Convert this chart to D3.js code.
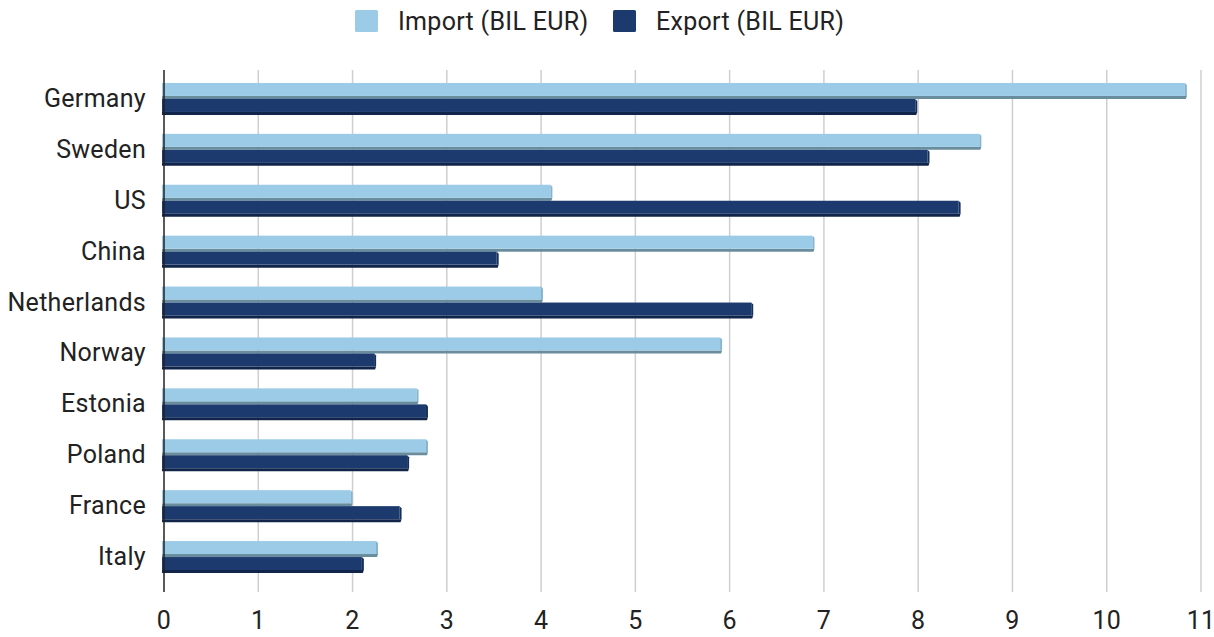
<!DOCTYPE html>
<html>
<head>
<meta charset="utf-8">
<script src="https://cdn.jsdelivr.net/npm/d3@7"></script>
<style>
  body { margin: 0; background: #fff; }
  text { font-family: Roboto, "Noto Sans", sans-serif; fill: #222; letter-spacing: 0.3px; }
</style>
</head>
<body>
<svg id="chart" width="1214" height="637"></svg>
<script>
// data
const countries = ["Germany", "Sweden", "US", "China", "Netherlands", "Norway", "Estonia", "Poland", "France", "Italy"];
const importVals = [10.85, 8.67, 4.12, 6.9, 4.02, 5.92, 2.7, 2.8, 2.0, 2.27];
const exportVals = [7.99, 8.12, 8.45, 3.55, 6.25, 2.25, 2.8, 2.6, 2.52, 2.12];
const xTicks = [0, 1, 2, 3, 4, 5, 6, 7, 8, 9, 10, 11];
const seriesNames = ["Import (BIL EUR)", "Export (BIL EUR)"];

const svg = d3.select("#chart");

const x = d3.scaleLinear().domain([0, 11]).range([164, 1201]);
const y = d3.scaleBand().domain(countries).range([73.5, 582.5]);

const gridTop = 70, gridBottom = 592;
const fs = 25;

// gridlines
svg.append("g").selectAll("line").data(xTicks.slice(1)).enter().append("line")
  .attr("x1", d => x(d)).attr("x2", d => x(d))
  .attr("y1", gridTop).attr("y2", gridBottom)
  .attr("stroke", "#cfcfcf").attr("stroke-width", 1.5);

// tick labels
svg.append("g").selectAll("text").data(xTicks).enter().append("text")
  .attr("x", d => x(d)).attr("y", 629)
  .attr("text-anchor", "middle")
  .attr("font-size", fs)
  .text(d => d);

// bars with a little 3d look
const styles = [
  { face: "#9ccbe7", bevel: "#86b4cf", shadow: "#6a8d9e", off: -16 },
  { face: "#1c3a6e", bevel: "#16305c", shadow: "#11244a", off: 0 }
];
const h = 13, sh = 3;

function drawSeries(vals, s) {
  const g = svg.append("g");
  const x0 = x(0) - 2;
  const bars = g.selectAll("g").data(vals).enter().append("g")
    .attr("transform", (d, i) => "translate(0," + (y(countries[i]) + y.bandwidth() / 2 + s.off) + ")");
  bars.append("path")
    .attr("d", d => {
      const x1 = x(d);
      return `M${x0},${h} L${x1},${h} L${x1 - 1},${h + sh} L${x0},${h + sh} Z`;
    })
    .attr("fill", s.shadow);
  bars.append("rect")
    .attr("x", x0).attr("y", 0)
    .attr("width", d => x(d) - x0 - 2).attr("height", h)
    .attr("fill", s.face);
  bars.append("path")
    .attr("d", d => {
      const x1 = x(d);
      return `M${x1 - 2},0 L${x1},2 L${x1},${h} L${x1 - 2},${h} Z`;
    })
    .attr("fill", s.bevel);
}
drawSeries(importVals, styles[0]);
drawSeries(exportVals, styles[1]);

// y axis line
svg.append("line")
  .attr("x1", x(0)).attr("x2", x(0))
  .attr("y1", gridTop).attr("y2", gridBottom)
  .attr("stroke", "#222").attr("stroke-width", 1.5);

// category labels
svg.append("g").selectAll("text").data(countries).enter().append("text")
  .attr("x", 146).attr("y", d => y(d) + y.bandwidth() / 2 + 8)
  .attr("text-anchor", "end")
  .attr("font-size", fs)
  .text(d => d);

// legend
const legendX = [355, 613];
const lg = svg.append("g").selectAll("g").data(seriesNames).enter().append("g")
  .attr("transform", (d, i) => "translate(" + legendX[i] + ",10)");
lg.append("rect").attr("width", 23).attr("height", 22).attr("rx", 1.5)
  .attr("fill", (d, i) => styles[i].face);
lg.append("text").attr("x", 43).attr("y", 20).attr("font-size", fs).text(d => d);
</script>
</body>
</html>
